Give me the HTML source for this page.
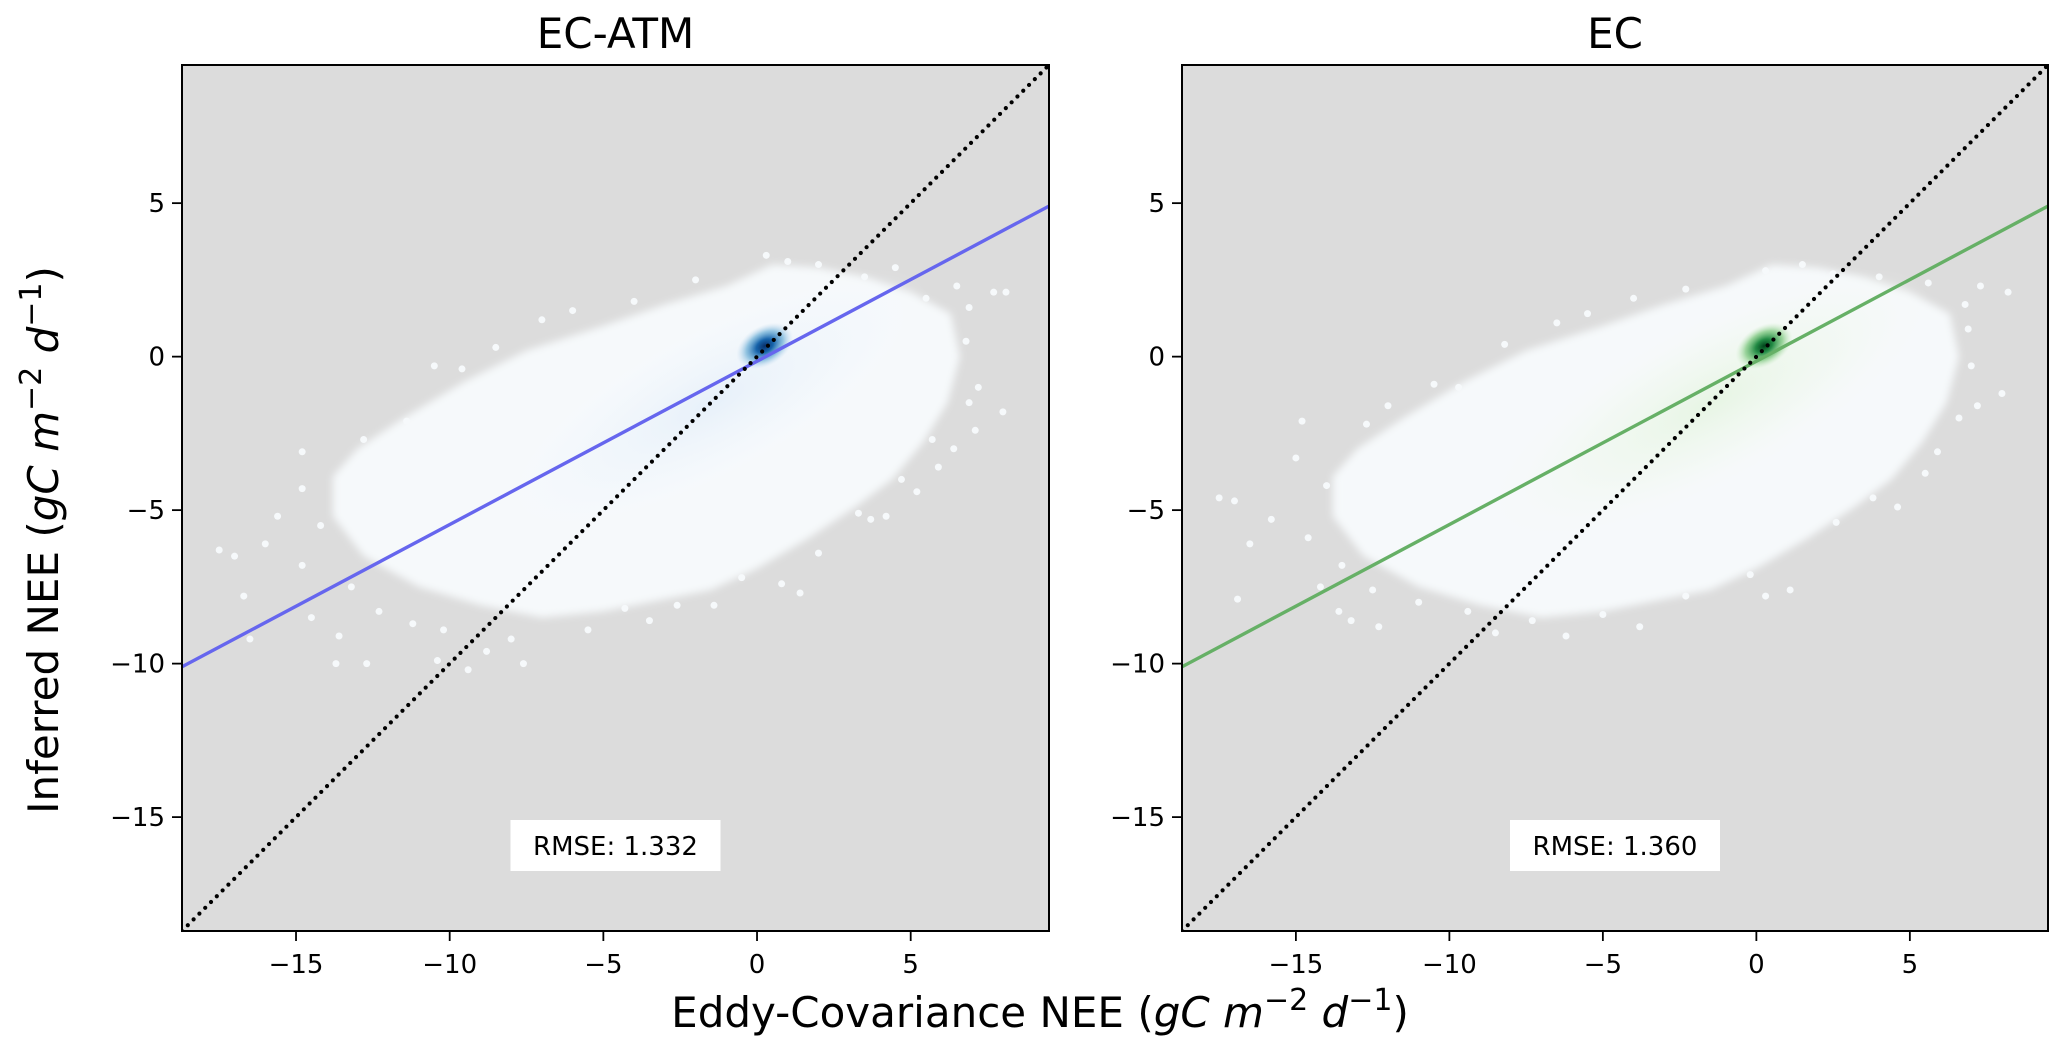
<!DOCTYPE html>
<html><head><meta charset="utf-8"><style>
html,body{margin:0;padding:0;background:#fff;}
svg{display:block;font-family:"DejaVu Sans","Liberation Sans",sans-serif;}
</style></head><body>
<svg id="chart" width="2067" height="1054" viewBox="0 0 2067 1054" xmlns="http://www.w3.org/2000/svg">
<defs>
<filter id="soft" x="-10%" y="-10%" width="120%" height="120%"><feGaussianBlur stdDeviation="4"/></filter>
<radialGradient id="paleB"><stop offset="0" stop-color="#e3eef9" stop-opacity="0.8"/><stop offset="0.6" stop-color="#eef5fc" stop-opacity="0.4"/><stop offset="1" stop-color="#f7fbff" stop-opacity="0"/></radialGradient>
<radialGradient id="coreB"><stop offset="0" stop-color="#08306b"/><stop offset="0.3" stop-color="#1764ab"/><stop offset="0.65" stop-color="#6aaed6" stop-opacity="0.7"/><stop offset="1" stop-color="#c6dbef" stop-opacity="0"/></radialGradient>
<radialGradient id="paleG"><stop offset="0" stop-color="#e3f4de" stop-opacity="0.8"/><stop offset="0.6" stop-color="#eef8ea" stop-opacity="0.4"/><stop offset="1" stop-color="#f7fcf5" stop-opacity="0"/></radialGradient>
<radialGradient id="coreG"><stop offset="0" stop-color="#00441b"/><stop offset="0.3" stop-color="#238b45"/><stop offset="0.65" stop-color="#74c476" stop-opacity="0.7"/><stop offset="1" stop-color="#c7e9c0" stop-opacity="0"/></radialGradient>
<clipPath id="clipL"><rect x="182" y="65" width="867" height="866"/></clipPath>
<clipPath id="clipR"><rect x="1182" y="65" width="866" height="866"/></clipPath>
</defs>
<g id="root"></g>
</svg>
<script>
const xTicks = [-15, -10, -5, 0, 5];
const yTicks = [5, 0, -5, -10, -15];
const tickLabels = ["\u221215", "\u221210", "\u22125", "0", "5"];
const yTickLabels = ["5", "0", "\u22125", "\u221210", "\u221215"];
const domain = [-18.71, 9.5];
const titles = ["EC-ATM", "EC"];
const rmse = ["RMSE: 1.332", "RMSE: 1.360"];
const fitSlope = [0.532, 0.532];
const fitIntercept = [-0.15, -0.15];
const fitColors = ["#6666ee", "#66b066"];
const cloudOutline = [[-13,-3.0],[-11.5,-2],[-9.5,-0.8],[-7.5,0.2],[-5,1.0],[-3,1.7],[-1,2.3],[0.5,3.0],[2,2.9],[3.5,2.6],[5,2.1],[6.3,1.4],[6.6,0],[6.2,-1.5],[5.4,-2.8],[4.4,-4.0],[3.2,-4.9],[1.7,-5.9],[0,-6.9],[-1.5,-7.6],[-3,-7.9],[-5,-8.3],[-7,-8.5],[-9,-8.1],[-11,-7.5],[-12.8,-6.5],[-13.8,-5.2],[-13.8,-3.9]];
const outliersL = [[-17.5,-6.3],[-17,-6.5],[-16.7,-7.8],[-16,-6.1],[-15.6,-5.2],[-14.8,-3.1],[-14.8,-4.3],[-14.8,-6.8],[-14.5,-8.5],[-13.6,-9.1],[-13.7,-10],[-12.7,-10],[-12.8,-2.7],[-12,-4.7],[-11.4,-2.1],[-10.5,-0.3],[-9.6,-0.4],[-10.4,-9.9],[-9.4,-10.2],[-7.6,-10],[-8.8,-9.6],[-6.3,-8.1],[-4.3,-8.2],[-2.6,-8.1],[-1.4,-8.1],[1.4,-7.7],[0.3,3.3],[2,3],[3.5,2.6],[5.5,1.9],[6.5,2.3],[7.7,2.1],[8.1,2.1],[8,-1.8],[7.1,-2.4],[6.4,-3],[5.7,-2.7],[4.7,-4],[5.2,-4.4],[3.3,-5.1],[3.7,-5.3],[2,-6.4],[-0.5,-7.2],[-16.5,-9.2],[-7,1.2],[-4,1.8],[-2,2.5],[4.5,2.9],[6.8,0.5],[7.2,-1],[-13.2,-7.5],[-12.3,-8.3],[-11.2,-8.7],[-10.2,-8.9],[-14.2,-5.5],[-13.4,-4.6],[-8.5,0.3],[-6,1.5],[1,3.1],[6.9,1.6],[6.9,-1.5],[5.9,-3.6],[4.2,-5.2],[0.8,-7.4],[-3.5,-8.6],[-5.5,-8.9],[-8,-9.2]];
const outliersR = [[-17.5,-4.6],[-17,-4.7],[-16.5,-6.1],[-15.8,-5.3],[-16.9,-7.9],[-14.8,-2.1],[-15,-3.3],[-14.6,-5.9],[-14.2,-7.5],[-13.6,-8.3],[-13.2,-8.6],[-12.3,-8.8],[-12.7,-2.2],[-11.5,-2.5],[-10.5,-0.9],[-9.7,-1.0],[-12,-1.6],[-5.5,1.4],[-2.3,2.2],[0.3,2.8],[2.5,2.7],[4,2.6],[5.6,2.4],[7.3,2.3],[8.2,2.1],[8,-1.2],[7.2,-1.6],[6.6,-2.0],[5.9,-3.1],[5.5,-3.8],[3.8,-4.6],[2.6,-5.4],[1.1,-7.6],[-0.2,-7.1],[-2.3,-7.8],[-5,-8.4],[-7.3,-8.6],[-9.4,-8.3],[-11,-8.0],[-6.5,1.1],[6.9,0.9],[-1,-6.9],[-14,-4.2],[-13.5,-6.8],[-12.5,-7.6],[-8.5,-9.0],[-6.2,-9.1],[-3.8,-8.8],[-8.2,0.4],[-4,1.9],[1.5,3.0],[6.8,1.7],[7,-0.3],[4.6,-4.9],[0.3,-7.8]];
const panels = [
  {x0:182, x1:1049, y0:65, y1:931, clip:"clipL", pale:"paleB", core:"coreB", out:outliersL, key:"left"},
  {x0:1182, x1:2048, y0:65, y1:931, clip:"clipR", pale:"paleG", core:"coreG", out:outliersR, key:"right"}
];
const NS = "http://www.w3.org/2000/svg";
const root = document.getElementById("root");
function mk(tag, attrs, parent){ const e=document.createElementNS(NS,tag); for(const k in attrs) e.setAttribute(k,attrs[k]); (parent||root).appendChild(e); return e; }
panels.forEach((p,i)=>{
  const sx = v => p.x0 + (v-domain[0])/(domain[1]-domain[0])*(p.x1-p.x0);
  const sy = v => p.y1 - (v-domain[0])/(domain[1]-domain[0])*(p.y1-p.y0);
  const unit = (p.x1-p.x0)/(domain[1]-domain[0]);
  const g = mk("g",{});
  
  
  const bg = mk("rect",{x:p.x0,y:p.y0,width:p.x1-p.x0,height:p.y1-p.y0,fill:"#dcdcdc"},g);
  
  
  const pg = mk("g",{"clip-path":"url(#"+p.clip+")"},g);
  const cloud = mk("polygon",{points:cloudOutline.map(c=>sx(c[0])+","+sy(c[1])).join(" "),fill:"#f6f9fb",filter:"url(#soft)"},pg);
  
  
  p.out.forEach(pt=>{
    const c = mk("circle",{cx:sx(pt[0]),cy:sy(pt[1]),r:3.5,fill:"#f6f9fb"},pg);
    
    
  });
  const cx = sx(-1.5), cy = sy(-1.5);
  const pale = mk("ellipse",{cx:cx,cy:cy,rx:8*unit,ry:2.6*unit,fill:"url(#"+p.pale+")",transform:"rotate(-28 "+cx+" "+cy+")"},pg);
  
  
  const kx = sx(0.25), ky = sy(0.35);
  const core = mk("ellipse",{cx:kx,cy:ky,rx:1.0*unit,ry:0.65*unit,fill:"url(#"+p.core+")",transform:"rotate(-30 "+kx+" "+ky+")"},pg);
  
  
  const fit = mk("line",{x1:sx(domain[0]),y1:sy(fitSlope[i]*domain[0]+fitIntercept[i]),x2:sx(domain[1]),y2:sy(fitSlope[i]*domain[1]+fitIntercept[i]),stroke:fitColors[i],"stroke-width":3.4},pg);
  
  
  const one = mk("line",{x1:sx(domain[0]),y1:sy(domain[0]),x2:sx(domain[1]),y2:sy(domain[1]),stroke:"#000","stroke-width":4.2,"stroke-dasharray":"0 8.2","stroke-linecap":"round"},pg);
  
  
  const bx = (p.x0+p.x1)/2;
  const box = mk("rect",{x:bx-105,y:820,width:210,height:51,fill:"#fff"},g);
  
  
  const rt = mk("text",{x:bx,y:855,"font-size":26,"text-anchor":"middle",fill:"#000"},g);
  rt.textContent = rmse[i];
  
  
  const fr = mk("rect",{x:p.x0,y:p.y0,width:p.x1-p.x0,height:p.y1-p.y0,fill:"none",stroke:"#000","stroke-width":2},g);
  
  
  xTicks.forEach((t,j)=>{
    const X = sx(t);
    const tk = mk("line",{x1:X,y1:p.y1,x2:X,y2:p.y1+10,stroke:"#000","stroke-width":1.8},g);
    
    
    const tl = mk("text",{x:X,y:p.y1+42,"font-size":26,"text-anchor":"middle"},g);
    tl.textContent = tickLabels[j];
    
    
  });
  yTicks.forEach((t,j)=>{
    const Y = sy(t);
    const tk = mk("line",{x1:p.x0-10,y1:Y,x2:p.x0,y2:Y,stroke:"#000","stroke-width":1.8},g);
    
    
    const tl = mk("text",{x:p.x0-17,y:Y+9,"font-size":26,"text-anchor":"end"},g);
    tl.textContent = yTickLabels[j];
    
    
  });
  const tt = mk("text",{x:bx,y:48,"font-size":42,"text-anchor":"middle"},g);
  tt.textContent = titles[i];
  
  
});
</script>
<script>
const svg = document.getElementById("chart");
const xl = document.createElementNS("http://www.w3.org/2000/svg","text");
xl.setAttribute("x","1040"); xl.setAttribute("y","1027"); xl.setAttribute("font-size","42"); xl.setAttribute("text-anchor","middle");
xl.innerHTML = 'Eddy-Covariance NEE (<tspan font-style="italic">gC m</tspan><tspan dy="-17" font-size="30">\u22122</tspan><tspan dy="17" font-style="italic"> d</tspan><tspan dy="-17" font-size="30">\u22121</tspan><tspan dy="17">)</tspan>';


svg.appendChild(xl);
const yl = document.createElementNS("http://www.w3.org/2000/svg","text");
yl.setAttribute("x","0"); yl.setAttribute("y","0"); yl.setAttribute("font-size","42"); yl.setAttribute("text-anchor","middle");
yl.setAttribute("transform","translate(58,540) rotate(-90)");
yl.innerHTML = 'Inferred NEE (<tspan font-style="italic">gC m</tspan><tspan dy="-17" font-size="30">\u22122</tspan><tspan dy="17" font-style="italic"> d</tspan><tspan dy="-17" font-size="30">\u22121</tspan><tspan dy="17">)</tspan>';


svg.appendChild(yl);
</script>
</body></html>
